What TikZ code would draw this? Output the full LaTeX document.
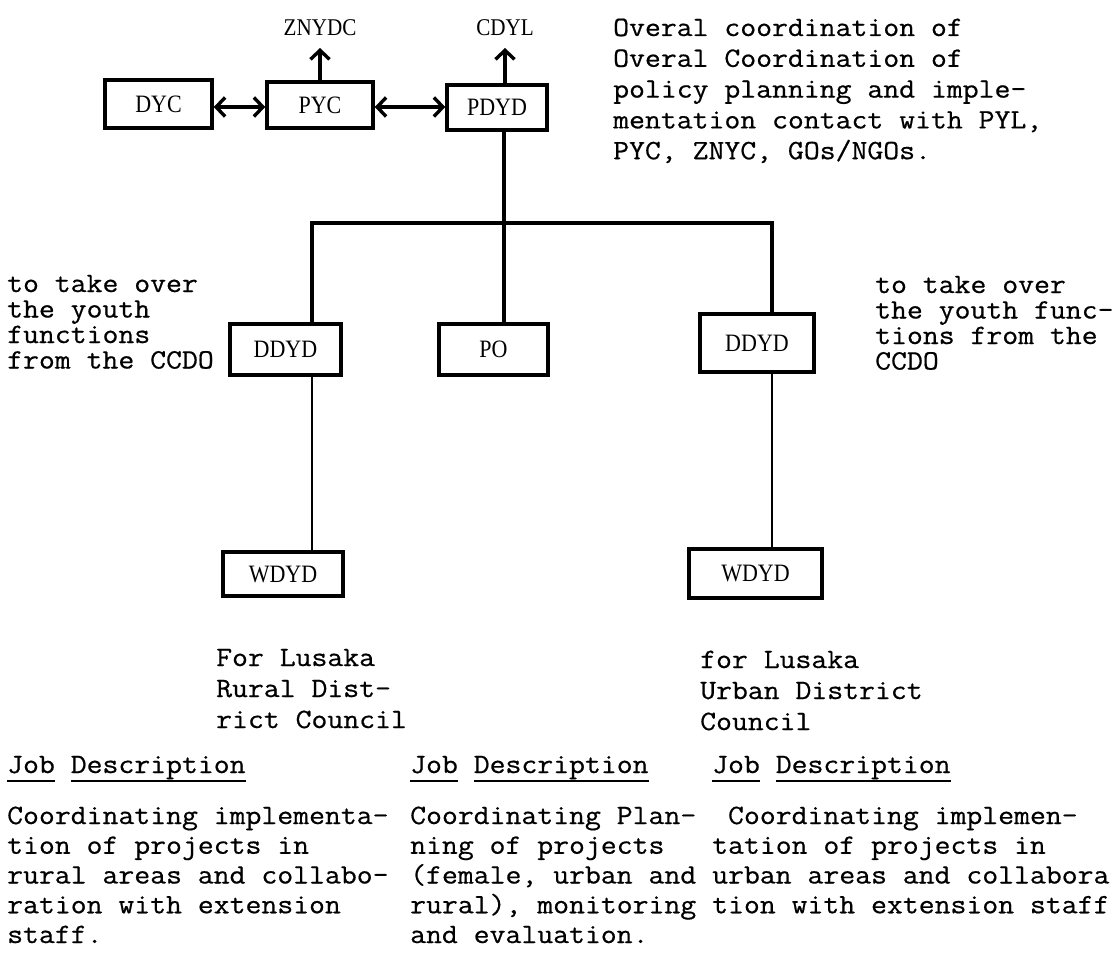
\documentclass[tikz,border=0pt]{standalone}
\usepackage{fontspec}
\setmonofont[FakeStretch=1.102,FakeBold=0.6]{Latin Modern Mono}
\newfontfamily\boxfont[FakeStretch=0.88]{Liberation Serif}
\usetikzlibrary{arrows.meta}
\newcommand\tblock[2]{\vtop{\baselineskip=#1\lineskiplimit=-100pt\lineskip=0pt\halign{##\hfil\cr#2\crcr}}}
\newcommand\jul[1]{\setbox0=\hbox{#1}\rlap{\rule[-9pt]{\wd0}{2.2pt}}\box0\relax}
\begin{document}
\begin{tikzpicture}[x=1pt,y=-1pt,
  box/.style={draw, line width=3.5pt, inner sep=0pt, font=\boxfont\fontsize{25}{25}\selectfont},
  lbl/.style={inner sep=0pt, anchor=base, font=\boxfont\fontsize{24}{24}\selectfont},
  tt/.style={inner sep=0pt, anchor=base west, font=\ttfamily\fontsize{28}{30}\selectfont},
  link/.style={line width=3.5pt},
  fine/.style={line width=1.8pt},
  arr/.style={line width=3.4pt, -{Straight Barb[length=9pt,width=19pt]}},
  darr/.style={line width=3.4pt, {Straight Barb[length=9pt,width=19pt]}-{Straight Barb[length=9pt,width=19pt]}}]
\useasboundingbox (0,0) rectangle (1114,955);
\fill[white] (0,0) rectangle (1114,955);

% top row
\node[box, minimum width=107pt, minimum height=48pt] (dyc) at (158.5,104) {DYC};
\node[box, minimum width=106pt, minimum height=46pt] (pyc) at (320,105) {PYC};
\node[box, minimum width=100pt, minimum height=45pt] (pdyd) at (497,107.5) {PDYD};
\node[lbl] (znydc) at (320,36) {ZNYDC};
\node[lbl] (cdyl) at (505,36) {CDYL};
\coordinate (tipZ) at (320,48);
\coordinate (tipC) at (505,48);
\coordinate (rowA) at (0,107);
\draw[arr] (pyc.north -| tipZ) -- (tipZ);
\draw[arr] (pdyd.north -| tipC) -- (tipC);
\draw[darr] (dyc.east |- rowA) -- (pyc.west |- rowA);
\draw[darr] (pyc.east |- rowA) -- (pdyd.west |- rowA);

% second tier
\node[box, minimum width=111pt, minimum height=51pt] (ddydL) at (285.5,349.5) {DDYD};
\node[box, minimum width=109pt, minimum height=51pt] (po) at (493.5,349.5) {PO};
\node[box, minimum width=114pt, minimum height=58pt] (ddydR) at (757,343) {DDYD};

\coordinate (jn) at (504,223);
\coordinate (barL) at (312,223);
\coordinate (barR) at (772,223);
\draw[link] (pdyd.south -| jn) -- (jn);
\draw[link, line join=miter] (barL |- ddydL.north) -- (barL) -- (barR) -- (barR |- ddydR.north);
\draw[link] (jn) -- (jn |- po.north);

% third tier
\node[box, minimum width=120pt, minimum height=44pt] (wdydL) at (283,574) {WDYD};
\node[box, minimum width=133pt, minimum height=49pt] (wdydR) at (755.5,573.5) {WDYD};
\draw[fine] (barL |- ddydL.south) -- (barL |- wdydL.north);
\draw[fine] (barR |- ddydR.south) -- (barR |- wdydR.north);

% texts
\node[tt] (coord) at (613,36) {\tblock{30.8pt}{Overal coordination of\cr Overal Coordination of\cr policy planning and imple-\cr mentation contact with PYL,\cr PYC, ZNYC, GOs/NGOs.}};
\node[tt] (takeL) at (7,292) {\tblock{25.5pt}{to take over\cr the youth\cr functions\cr from the CCDO}};
\node[tt] (takeR) at (875,293) {\tblock{25.5pt}{to take over\cr the youth func-\cr tions from the\cr CCDO}};
\node[tt] (rural) at (216,666) {\tblock{31pt}{For Lusaka\cr Rural Dist-\cr rict Council}};
\node[tt] (urban) at (700,668) {\tblock{31pt}{for Lusaka\cr Urban District\cr Council}};

\node[tt] (hd1) at (7,773) {\jul{Job} \jul{Description}};
\node[tt] (hd2) at (410,773) {\jul{Job} \jul{Description}};
\node[tt] (hd3) at (712,773) {\jul{Job} \jul{Description}};
\node[tt] (jd1) at (7,824) {\tblock{29.75pt}{Coordinating implementa-\cr tion of projects in\cr rural areas and collabo-\cr ration with extension\cr staff.}};
\node[tt] (jd2) at (410,824) {\tblock{29.75pt}{Coordinating Plan-\cr ning of projects\cr (female, urban and\cr rural), monitoring\cr and evaluation.}};
\node[tt] (jd3) at (712,824) {\tblock{29.75pt}{\ Coordinating implemen-\cr tation of projects in\cr urban areas and collabora\cr tion with extension staff}};
\end{tikzpicture}
\end{document}
